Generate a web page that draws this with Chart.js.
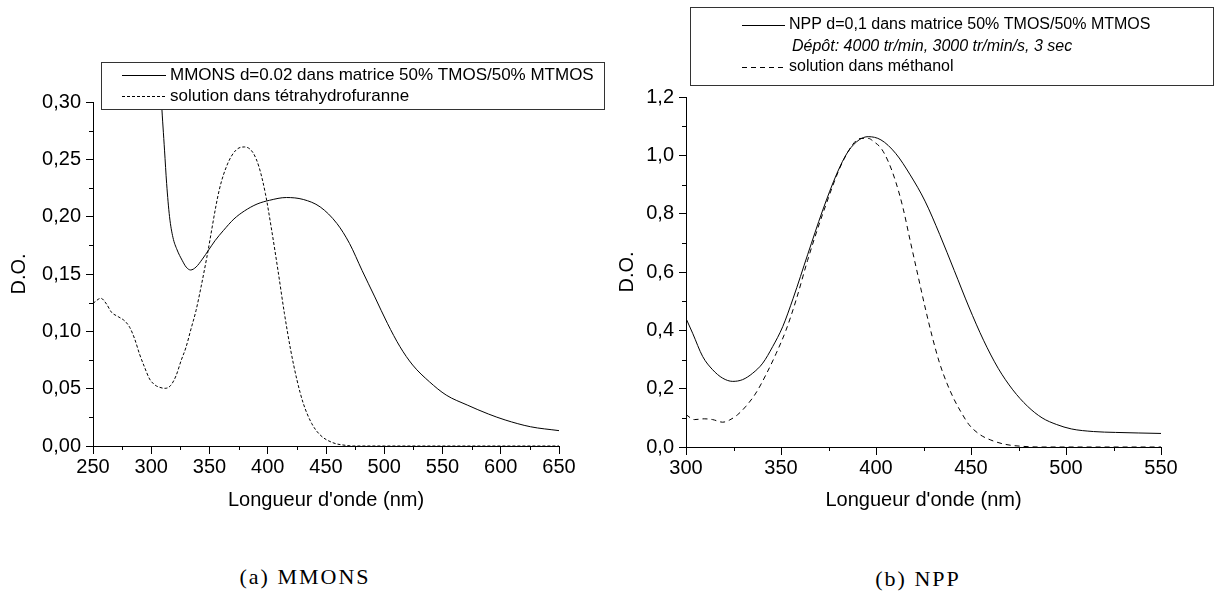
<!DOCTYPE html>
<html>
<head>
<meta charset="utf-8">
<script src="https://cdn.jsdelivr.net/npm/chart.js@4"></script>
<style>
  body { margin: 0; background: #fff; width: 1214px; height: 597px; position: relative; overflow: hidden; }
  canvas { position: absolute; top: 0; }
  #chartA { left: 0; }
  #chartB { left: 600px; }
  .caption { position: absolute; width: 300px; text-align: center; font: 22px "Liberation Serif", serif; letter-spacing: 2px; color: #000; }
</style>
</head>
<body>
<canvas id="chartA" width="640" height="516"></canvas>
<canvas id="chartB" width="614" height="516"></canvas>
<div class="caption" style="left:155px; top:564px;">(a) MMONS</div>
<div class="caption" style="left:768px; top:566px;">(b) NPP</div>
<script>
// (a) MMONS : film dans matrice / solution THF
const mmonsFilmNm = [305, 308.8, 311.4, 313.2, 315.7, 318.6, 322.2, 326.5, 330, 333.8, 338.4, 343.9, 349.3, 354.7, 362, 371, 380, 390.8, 401.6, 416, 430.5, 445, 459.4, 470.2, 481, 491.9, 502.7, 513.5, 524.4, 538.8, 553.2, 571.3, 589.4, 603.8, 625.5, 650];
const mmonsFilmDO = [0.38, 0.30, 0.258, 0.229, 0.200, 0.182, 0.171, 0.162, 0.156, 0.1535, 0.156, 0.163, 0.171, 0.179, 0.188, 0.198, 0.205, 0.211, 0.2143, 0.2167, 0.215, 0.2085, 0.194, 0.1766, 0.153, 0.130, 0.107, 0.0866, 0.0706, 0.056, 0.0444, 0.0357, 0.0279, 0.0227, 0.0168, 0.0134];
const mmonsThfNm = [250, 256.8, 261.6, 265.9, 271.6, 277.3, 281.5, 285.8, 290, 294.3, 298.6, 302.8, 307.1, 311.9, 316.5, 321.3, 325.6, 329.8, 334.1, 338.4, 342.6, 347.7, 358.3, 365.5, 372.7, 380, 387.2, 392.6, 398, 403.4, 408.8, 414.3, 419.7, 425.1, 430.5, 437.7, 445, 455.8, 466.6, 474, 500, 550, 600, 650];
const mmonsThfDO = [0.1244, 0.1288, 0.1238, 0.1166, 0.1128, 0.109, 0.1035, 0.0933, 0.080, 0.0686, 0.0584, 0.0535, 0.0512, 0.0503, 0.0526, 0.0613, 0.0744, 0.086, 0.102, 0.118, 0.138, 0.1645, 0.223, 0.246, 0.258, 0.2608, 0.256, 0.243, 0.220, 0.188, 0.153, 0.1156, 0.0836, 0.0575, 0.0372, 0.0197, 0.0096, 0.0029, 0.0006, 0, 0, 0, 0, 0];

// (b) NPP : film dans matrice / solution méthanol
const nppFilmNm = [300, 303.5, 308.8, 314, 319.3, 324.6, 329.8, 335.1, 340.4, 345.6, 350.9, 356.4, 364.1, 371.8, 379.5, 385.3, 391.1, 395.9, 402.6, 410.3, 418, 425.8, 433.5, 441.2, 448.9, 456.6, 464.3, 472, 479.7, 487.4, 495.1, 502.8, 514.4, 526, 550];
const nppFilmDO = [0.441, 0.39, 0.31, 0.265, 0.236, 0.225, 0.231, 0.253, 0.2875, 0.344, 0.4125, 0.51, 0.661, 0.809, 0.939, 1.013, 1.053, 1.064, 1.053, 1.007, 0.933, 0.843, 0.729, 0.605, 0.48, 0.366, 0.27, 0.196, 0.14, 0.1, 0.077, 0.062, 0.053, 0.05, 0.0465];
const nppMeohNm = [300, 304.4, 309.6, 314, 319.3, 322.8, 327.2, 331.6, 336.8, 342.1, 347.4, 352.6, 357.9, 364, 372, 383.4, 392.1, 396, 398.8, 402.7, 406.5, 410.3, 414.2, 418, 421.9, 425.8, 429.6, 433.5, 437.3, 441.2, 445, 448.9, 454.6, 460.4, 468.1, 477.8, 487.4, 550];
const nppMeohDO = [0.111, 0.094, 0.0966, 0.094, 0.085, 0.092, 0.111, 0.14, 0.185, 0.248, 0.32, 0.40, 0.503, 0.64, 0.80, 0.99, 1.058, 1.058, 1.047, 1.024, 0.978, 0.911, 0.82, 0.707, 0.593, 0.48, 0.378, 0.287, 0.219, 0.162, 0.117, 0.077, 0.043, 0.024, 0.009, 0.002, 0, 0];

const FONT = '"Liberation Sans", Arial, sans-serif';
Chart.defaults.font.family = FONT;
Chart.defaults.color = "#000";

function points(xs, ys) {
  return xs.map((x, i) => ({ x: x, y: ys[i] }));
}

// petites graduations entre les grandes
const minorTicks = {
  id: "minorTicks",
  afterDraw(chart, args, opts) {
    const ctx = chart.ctx;
    const xs = chart.scales.x;
    const ys = chart.scales.y;
    const area = chart.chartArea;
    ctx.save();
    ctx.strokeStyle = "#000";
    ctx.lineWidth = 1;
    ctx.beginPath();
    for (let v = xs.min + opts.x; v < xs.max; v += 2 * opts.x) {
      const px = Math.round(xs.getPixelForValue(v)) + 0.5;
      ctx.moveTo(px, area.bottom);
      ctx.lineTo(px, area.bottom + 4);
    }
    for (let v = ys.min + opts.y; v < ys.max; v += 2 * opts.y) {
      const py = Math.round(ys.getPixelForValue(v)) + 0.5;
      ctx.moveTo(area.left - 4, py);
      ctx.lineTo(area.left, py);
    }
    ctx.stroke();
    ctx.restore();
  },
};

// légende encadrée
const boxLegend = {
  id: "boxLegend",
  afterDraw(chart, args, opts) {
    const ctx = chart.ctx;
    const b = opts.box;
    ctx.save();
    ctx.fillStyle = "#fff";
    ctx.fillRect(b.x, b.y, b.w, b.h);
    ctx.strokeStyle = "#333";
    ctx.lineWidth = 1;
    ctx.strokeRect(b.x + 0.5, b.y + 0.5, b.w, b.h);
    ctx.textBaseline = "middle";
    ctx.fillStyle = "#000";
    opts.rows.forEach((row) => {
      ctx.font = (row.italic ? "italic " : "") + opts.fontSize + "px " + FONT;
      if (row.dataset !== undefined) {
        const ds = chart.data.datasets[row.dataset];
        ctx.strokeStyle = "#000";
        ctx.setLineDash(ds.borderDash || []);
        ctx.beginPath();
        ctx.moveTo(opts.lineX0, row.y + 0.5);
        ctx.lineTo(opts.lineX1, row.y + 0.5);
        ctx.stroke();
        ctx.setLineDash([]);
        ctx.fillText(ds.label, opts.textX, row.y);
      } else {
        ctx.fillText(row.text, row.x, row.y);
      }
    });
    ctx.restore();
  },
};

function makeChart(id, cfg) {
  const commaTicks = (dec) => (v) => v.toFixed(dec).replace(".", ",");
  return new Chart(document.getElementById(id), {
    type: "line",
    data: {
      datasets: [
        {
          label: cfg.labels[0],
          data: points(cfg.series[0][0], cfg.series[0][1]),
          borderColor: "#000",
          borderWidth: 1,
          pointRadius: 0,
          cubicInterpolationMode: "monotone",
        },
        {
          label: cfg.labels[1],
          data: points(cfg.series[1][0], cfg.series[1][1]),
          borderColor: "#000",
          borderWidth: 1,
          borderDash: cfg.dash,
          pointRadius: 0,
          cubicInterpolationMode: "monotone",
        },
      ],
    },
    options: {
      responsive: false,
      animation: false,
      devicePixelRatio: 1,
      layout: { padding: cfg.padding },
      plugins: {
        legend: { display: false },
        tooltip: { enabled: false },
        minorTicks: cfg.minor,
        boxLegend: cfg.legend,
      },
      scales: {
        x: {
          type: "linear",
          min: cfg.xRange[0],
          max: cfg.xRange[1],
          afterFit: (s) => { s.height = cfg.xHeight; },
          ticks: { stepSize: 50, font: { size: 20 }, padding: 1, maxRotation: 0 },
          grid: { drawOnChartArea: false, tickLength: 8, tickColor: "#000" },
          border: { color: "#000", width: 1 },
          title: { display: true, text: "Longueur d'onde (nm)", font: { size: 20 }, padding: { top: 4, bottom: 4 } },
        },
        y: {
          min: cfg.yRange[0],
          max: cfg.yRange[1],
          afterFit: (s) => { s.width = cfg.yWidth; },
          ticks: { stepSize: cfg.yStep, font: { size: 20 }, padding: 5, callback: commaTicks(cfg.yDec) },
          grid: { drawOnChartArea: false, tickLength: 7, tickColor: "#000" },
          border: { color: "#000", width: 1 },
          title: { display: true, text: "D.O.", font: { size: 20 }, padding: { top: cfg.yTitlePad, bottom: 0 } },
        },
      },
    },
    plugins: [minorTicks, boxLegend],
  });
}

makeChart("chartA", {
  labels: ["MMONS d=0.02 dans matrice 50% TMOS/50% MTMOS", "solution dans tétrahydrofuranne"],
  series: [[mmonsFilmNm, mmonsFilmDO], [mmonsThfNm, mmonsThfDO]],
  dash: [3, 2],
  xRange: [250, 650],
  yRange: [0, 0.3],
  yStep: 0.05,
  yDec: 2,
  minor: { x: 25, y: 0.025 },
  padding: { left: 0, top: 102, right: 81, bottom: 0 },
  xHeight: 70,
  yWidth: 93,
  yTitlePad: 7,
  legend: {
    box: { x: 101, y: 62, w: 503, h: 47 },
    fontSize: 17,
    lineX0: 122, lineX1: 166, textX: 170,
    rows: [{ dataset: 0, y: 75 }, { dataset: 1, y: 96 }],
  },
});

makeChart("chartB", {
  labels: ["NPP d=0,1 dans matrice 50% TMOS/50% MTMOS", "solution dans méthanol"],
  series: [[nppFilmNm, nppFilmDO], [nppMeohNm, nppMeohDO]],
  dash: [5, 4],
  xRange: [300, 550],
  yRange: [0, 1.2],
  yStep: 0.2,
  yDec: 1,
  minor: { x: 25, y: 0.1 },
  padding: { left: 0, top: 97, right: 53, bottom: 0 },
  xHeight: 69,
  yWidth: 86,
  yTitlePad: 15,
  legend: {
    box: { x: 90, y: 7, w: 523, h: 78 },
    fontSize: 16,
    lineX0: 142, lineX1: 185, textX: 189,
    rows: [
      { dataset: 0, y: 25 },
      { text: "Dépôt: 4000 tr/min, 3000 tr/min/s, 3 sec", italic: true, x: 192, y: 47 },
      { dataset: 1, y: 67 },
    ],
  },
});
</script>
</body>
</html>
